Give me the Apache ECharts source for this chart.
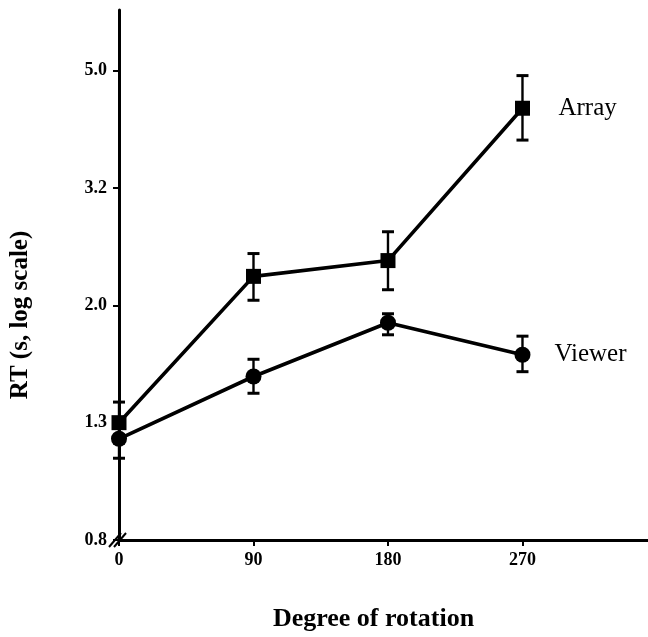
<!DOCTYPE html>
<html>
<head>
<meta charset="utf-8">
<script src="https://cdn.jsdelivr.net/npm/echarts@6/dist/echarts.min.js"></script>
<style>
html,body{margin:0;padding:0;background:#fff;}
#chart{width:648px;height:637px;}
</style>
</head>
<body>
<div id="chart"></div>
<script>
// Data (RT in seconds)
const degrees = [0, 90, 180, 270];
const arrayMean = [1.28, 2.30, 2.45, 4.51];
const arrayLow  = [1.18, 2.09, 2.18, 3.97];
const arrayHigh = [1.39, 2.52, 2.75, 5.14];
const viewerMean = [1.20, 1.54, 1.91, 1.68];
const viewerLow  = [1.11, 1.44, 1.82, 1.57];
const viewerHigh = [1.29, 1.65, 1.98, 1.81];
const yTickLabels = ['0.8', '1.3', '2.0', '3.2', '5.0'];
const xTickValues = [0, 90, 180, 270];

// log scale: axis unit = one step of factor 1.6 starting at 0.8
const LOG_BASE = 1.6, LOG_ORIGIN = 0.8;
const toLog = v => Math.log(v / LOG_ORIGIN) / Math.log(LOG_BASE);

const serif = '"Liberation Serif", "DejaVu Serif", serif';

const chart = echarts.init(document.getElementById('chart'), null, {renderer: 'canvas'});

function pairs(means) { return degrees.map((d, i) => [d, toLog(means[i])]); }
function errs(lo, hi) { return degrees.map((d, i) => [d, toLog(lo[i]), toLog(hi[i])]); }

function errorBarItem(params, api) {
  const x = api.value(0);
  const lo = api.coord([x, api.value(1)]);
  const hi = api.coord([x, api.value(2)]);
  const w = 6;
  const style = {stroke: '#000', lineWidth: 2.4, fill: null};
  return {
    type: 'group',
    children: [
      {type: 'line', shape: {x1: lo[0], y1: lo[1], x2: hi[0], y2: hi[1]}, style},
      {type: 'line', shape: {x1: lo[0] - w, y1: lo[1], x2: lo[0] + w, y2: lo[1]}, style: {stroke: '#000', lineWidth: 3}},
      {type: 'line', shape: {x1: hi[0] - w, y1: hi[1], x2: hi[0] + w, y2: hi[1]}, style: {stroke: '#000', lineWidth: 3}}
    ]
  };
}

const option = {
  backgroundColor: '#fff',
  animation: false,
  grid: {left: 117, right: 0, top: 10, bottom: 94, containLabel: false},
  xAxis: {
    type: 'value',
    min: 0,
    max: 354,
    interval: 90,
    splitLine: {show: false},
    axisLine: {show: true, onZero: false, lineStyle: {color: '#000', width: 3}},
    axisTick: {show: true, length: 6, inside: false, customValues: xTickValues, lineStyle: {color: '#000', width: 2}},
    axisLabel: {
      show: true, customValues: xTickValues, margin: 11,
      color: '#000', fontFamily: serif, fontWeight: 'bold', fontSize: 18
    },
    name: 'Degree of rotation',
    nameLocation: 'middle',
    nameGap: 66,
    nameTextStyle: {color: '#000', fontFamily: serif, fontWeight: 'bold', fontSize: 26, padding: [0, 20, 0, 0]}
  },
  yAxis: {
    type: 'value',
    min: 0,
    max: (543 - 10) / 118,
    interval: 1,
    splitLine: {show: false},
    axisLine: {show: true, onZero: false, lineStyle: {color: '#000', width: 3}},
    axisTick: {show: true, length: 6, inside: false, customValues: [0, 1, 2, 3, 4], lineStyle: {color: '#000', width: 2}},
    axisLabel: {
      show: true, customValues: [0, 1, 2, 3, 4], margin: 12,
      color: '#000', fontFamily: serif, fontWeight: 'bold', fontSize: 18,
      formatter: v => yTickLabels[Math.round(v)] || ''
    },
    name: 'RT (s, log scale)',
    nameLocation: 'middle',
    nameGap: 86,
    nameRotate: 90,
    nameTextStyle: {color: '#000', fontFamily: serif, fontWeight: 'bold', fontSize: 25, padding: [0, 80, 0, 0]}
  },
  series: [
    {
      name: 'Array',
      type: 'line',
      data: pairs(arrayMean),
      symbol: 'rect',
      symbolSize: 15,
      itemStyle: {color: '#000'},
      lineStyle: {color: '#000', width: 3.6},
      z: 3,
      endLabel: {show: true, formatter: '{a}', distance: 36, color: '#000', fontFamily: serif, fontSize: 25}
    },
    {
      name: 'Viewer',
      type: 'line',
      data: pairs(viewerMean),
      symbol: 'circle',
      symbolSize: 16,
      itemStyle: {color: '#000'},
      lineStyle: {color: '#000', width: 3.6},
      z: 3,
      endLabel: {show: true, formatter: '{a}', distance: 32, color: '#000', fontFamily: serif, fontSize: 25}
    },
    {
      name: 'ArrayErr', type: 'custom', renderItem: errorBarItem,
      data: errs(arrayLow, arrayHigh), encode: {x: 0, y: [1, 2]}, z: 2
    },
    {
      name: 'ViewerErr', type: 'custom', renderItem: errorBarItem,
      data: errs(viewerLow, viewerHigh), encode: {x: 0, y: [1, 2]}, z: 2
    }
  ]
};
chart.setOption(option);

// axis break mark at the origin
const o = chart.convertToPixel({gridIndex: 0}, [0, 0]);
chart.setOption({
  graphic: [
    {type: 'line', shape: {x1: o[0] - 10, y1: o[1] + 7, x2: o[0] + 2, y2: o[1] - 7}, style: {stroke: '#000', lineWidth: 2}, z: 10},
    {type: 'line', shape: {x1: o[0] - 5, y1: o[1] + 7, x2: o[0] + 7, y2: o[1] - 7}, style: {stroke: '#000', lineWidth: 2}, z: 10}
  ]
});
</script>
</body>
</html>
